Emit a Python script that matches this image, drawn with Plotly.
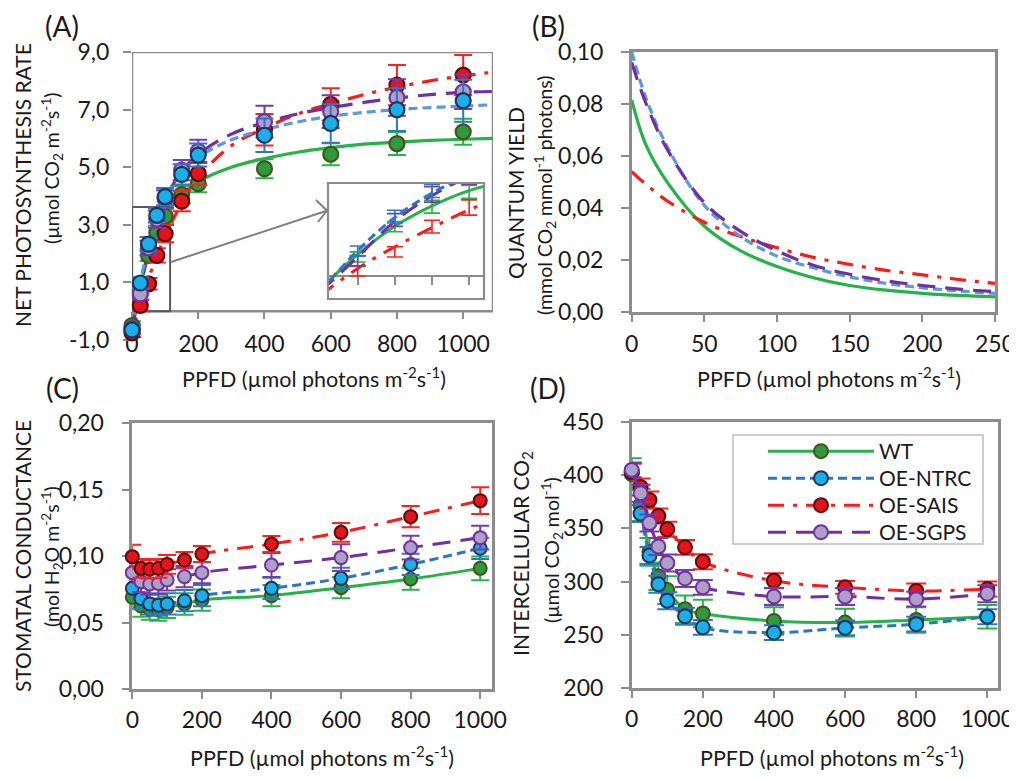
import plotly.graph_objects as go

# figure is placed 8 px in from the page corner; keep it small enough to avoid scrollbars
W, H = 1001, 763
OFF = 8


def px(x):
    return (x - OFF) / W


def py(y):
    return 1 - (y - OFF) / H


# ---------------- data ----------------
PPFD = [0, 25, 50, 75, 100, 150, 200, 400, 600, 800, 1000]
SERIES = ["WT", "OE-NTRC", "OE-SAIS", "OE-SGPS"]

# (A) net photosynthesis rate (means and SE)
A_WT = [-0.5, 0.75, 1.94, 2.72, 3.3, 4.05, 4.43, 4.95, 5.45, 5.82, 6.23]
A_NTRC = [-0.65, 0.98, 2.33, 3.33, 3.98, 4.75, 5.42, 6.11, 6.52, 7.0, 7.31]
A_SAIS = [-0.75, 0.2, 0.95, 1.94, 2.69, 3.82, 4.78, 6.3, 7.18, 7.85, 8.2]
A_SGPS = [-0.6, 0.6, 2.2, 3.2, 3.9, 4.9, 5.55, 6.58, 6.93, 7.42, 7.62]
A_WT_E = [0.15, 0.2, 0.2, 0.25, 0.25, 0.3, 0.3, 0.33, 0.38, 0.4, 0.45]
A_NTRC_E = [0.15, 0.2, 0.25, 0.25, 0.3, 0.35, 0.4, 0.58, 0.67, 0.74, 0.73]
A_SAIS_E = [0.15, 0.2, 0.2, 0.25, 0.3, 0.35, 0.4, 0.55, 0.56, 0.7, 0.7]
A_SGPS_E = [0.15, 0.2, 0.25, 0.3, 0.3, 0.35, 0.4, 0.55, 0.57, 0.63, 0.6]

# (A) fitted light-response curves
FIT_X = [0, 25, 50, 75, 100, 150, 200, 300, 400, 500, 600, 700, 800, 900, 1000, 1090]
FIT_WT = [-0.5, 0.85, 1.95, 2.75, 3.35, 4.05, 4.5, 5.0, 5.3, 5.52, 5.68, 5.8, 5.87, 5.93, 5.97, 6.0]
FIT_NTRC = [-0.6, 1.0, 2.3, 3.25, 3.95, 4.8, 5.35, 5.95, 6.3, 6.57, 6.77, 6.9, 7.0, 7.07, 7.12, 7.17]
FIT_SAIS = [-0.75, 0.3, 1.15, 1.9, 2.6, 3.75, 4.65, 5.75, 6.35, 6.85, 7.2, 7.52, 7.78, 8.0, 8.17, 8.3]
FIT_SGPS = [-0.6, 0.75, 2.15, 3.15, 3.9, 4.85, 5.45, 6.15, 6.55, 6.85, 7.07, 7.25, 7.4, 7.52, 7.6, 7.63]

# (B) quantum yield curves
B_X = [0, 10, 25, 50, 75, 100, 125, 150, 175, 200, 225, 250]
B_WT = [0.0815, 0.064, 0.0495, 0.033, 0.0235, 0.0175, 0.0132, 0.0102, 0.0084, 0.0072, 0.0064, 0.0058]
B_NTRC = [0.1, 0.082, 0.063, 0.041, 0.029, 0.0215, 0.017, 0.0135, 0.011, 0.0093, 0.0081, 0.0072]
B_SAIS = [0.054, 0.049, 0.0425, 0.0345, 0.029, 0.0247, 0.021, 0.0183, 0.016, 0.0143, 0.0125, 0.011]
B_SGPS = [0.096, 0.08, 0.062, 0.042, 0.031, 0.0235, 0.018, 0.0145, 0.012, 0.0102, 0.0088, 0.0078]

# (C) stomatal conductance
C_WT = [0.069, 0.0624, 0.060, 0.0594, 0.0614, 0.0639, 0.0669, 0.0702, 0.0762, 0.0827, 0.0907]
C_NTRC = [0.0757, 0.068, 0.064, 0.063, 0.064, 0.0664, 0.0702, 0.0757, 0.0832, 0.0937, 0.1058]
C_SAIS = [0.0995, 0.0907, 0.090, 0.0907, 0.0937, 0.097, 0.1015, 0.109, 0.1178, 0.1296, 0.1416]
C_SGPS = [0.0875, 0.0807, 0.079, 0.0794, 0.082, 0.0845, 0.0875, 0.0932, 0.0988, 0.1063, 0.1138]
C_WT_E = [0.008, 0.008, 0.008, 0.008, 0.008, 0.008, 0.008, 0.008, 0.008, 0.008, 0.009]
C_NTRC_E = [0.008, 0.008, 0.008, 0.008, 0.008, 0.008, 0.008, 0.008, 0.008, 0.008, 0.008]
C_SAIS_E = [0.009, 0.007, 0.007, 0.007, 0.007, 0.006, 0.006, 0.006, 0.007, 0.008, 0.01]
C_SGPS_E = [0.008, 0.008, 0.008, 0.008, 0.008, 0.008, 0.008, 0.009, 0.01, 0.009, 0.009]

# (D) intercellular CO2
D_WT = [401, 372, 328, 305, 292, 274, 270, 263, 261.5, 264, 267]
D_NTRC = [403, 364, 324.5, 297.5, 282, 267.5, 257, 252, 256.5, 260, 267]
D_SAIS = [403, 389, 376.7, 361.7, 349.2, 332.2, 318.7, 300.8, 294.6, 291.2, 293]
D_SGPS = [405, 383, 355, 333, 317.5, 303, 294.6, 286, 286, 283.5, 288.5]
D_WT_E = [15, 15, 13, 13, 13, 13, 13, 13, 13, 12, 11]
D_NTRC_E = [8, 8, 8, 8, 8, 8, 7, 7, 7, 7, 7]
D_SAIS_E = [8, 8, 8, 7, 7, 7, 7, 7, 6, 7, 7]
D_SGPS_E = [7, 8, 8, 8, 8, 8, 7, 8, 8, 7, 8]

# tick labels (decimal comma)
A_TICKS = [-1, 1, 3, 5, 7, 9]
A_TICKTEXT = ["-1,0", "1,0", "3,0", "5,0", "7,0", "9,0"]
B_TICKS = [0, 0.02, 0.04, 0.06, 0.08, 0.10]
B_TICKTEXT = ["0,00", "0,02", "0,04", "0,06", "0,08", "0,10"]
C_TICKS = [0, 0.05, 0.10, 0.15, 0.20]
C_TICKTEXT = ["0,00", "0,05", "0,10", "0,15", "0,20"]
D_TICKS = [200, 250, 300, 350, 400, 450]
X_TICKS = [0, 200, 400, 600, 800, 1000]
B_XTICKS = [0, 50, 100, 150, 200, 250]

# ---------------- styles ----------------
STYLE = {
    "WT": dict(line="#25b24a", lineA="#25b24a", dash="solid", fill="#2f9a3c", edge="#45521f", err="#2bb04c"),
    "OE-NTRC": dict(line="#2e75c0", lineA="#5b9bd5", dash="9px,5px", fill="#1aaeea", edge="#1f3556", err="#2e78c2"),
    "OE-SAIS": dict(line="#ff1a1a", lineA="#ff1a1a", dash="16px,9px,4px,9px", fill="#e3141b", edge="#5a0d0d", err="#ff2020"),
    "OE-SGPS": dict(line="#7030a0", lineA="#7030a0", dash="18px,10px", fill="#ad9fc8", edge="#7030a0", err="#7a3aa8"),
}
FONT = "Lato"
TXT = "#1a1a1a"
GRID = "#8c8c8c"

fig = go.Figure()

A_DATA = {"WT": (A_WT, A_WT_E, FIT_WT), "OE-NTRC": (A_NTRC, A_NTRC_E, FIT_NTRC),
          "OE-SAIS": (A_SAIS, A_SAIS_E, FIT_SAIS), "OE-SGPS": (A_SGPS, A_SGPS_E, FIT_SGPS)}
B_DATA = {"WT": B_WT, "OE-NTRC": B_NTRC, "OE-SAIS": B_SAIS, "OE-SGPS": B_SGPS}
C_DATA = {"WT": (C_WT, C_WT_E), "OE-NTRC": (C_NTRC, C_NTRC_E),
          "OE-SAIS": (C_SAIS, C_SAIS_E), "OE-SGPS": (C_SGPS, C_SGPS_E)}
D_DATA = {"WT": (D_WT, D_WT_E), "OE-NTRC": (D_NTRC, D_NTRC_E),
          "OE-SAIS": (D_SAIS, D_SAIS_E), "OE-SGPS": (D_SGPS, D_SGPS_E)}

# ---- panel A: fitted curves, then points
for s in ["WT", "OE-SAIS", "OE-SGPS", "OE-NTRC"]:
    st = STYLE[s]
    fig.add_trace(go.Scatter(x=FIT_X, y=A_DATA[s][2], mode="lines", line_shape="spline",
                             line=dict(color=st["lineA"], width=3.2, dash=st["dash"]),
                             xaxis="x", yaxis="y", showlegend=False, hoverinfo="skip"))
for s in ["WT", "OE-SAIS", "OE-SGPS", "OE-NTRC"]:
    st = STYLE[s]
    y, e, _ = A_DATA[s]
    fig.add_trace(go.Scatter(x=PPFD, y=y, mode="markers", cliponaxis=False,
                             marker=dict(size=15, color=st["fill"], line=dict(color=st["edge"], width=2.2)),
                             error_y=dict(type="data", array=e, color=st["err"], thickness=2, width=9),
                             xaxis="x", yaxis="y", showlegend=False))

# ---- inset of panel A
for s in ["WT", "OE-SAIS", "OE-SGPS", "OE-NTRC"]:
    st = STYLE[s]
    y, e, fit = A_DATA[s]
    fig.add_trace(go.Scatter(x=FIT_X[:8], y=fit[:8], mode="lines", line_shape="spline",
                             line=dict(color=st["line"], width=3, dash=st["dash"]),
                             xaxis="x5", yaxis="y5", showlegend=False, hoverinfo="skip"))
    fig.add_trace(go.Scatter(x=PPFD[1:6], y=y[1:6], mode="markers",
                             marker=dict(size=1, color="rgba(0,0,0,0)"),
                             error_y=dict(type="data", array=e[1:6], color=st["err"], thickness=1.6, width=8),
                             xaxis="x5", yaxis="y5", showlegend=False, hoverinfo="skip"))

# ---- panel B
for s in ["WT", "OE-SAIS", "OE-NTRC", "OE-SGPS"]:
    st = STYLE[s]
    fig.add_trace(go.Scatter(x=B_X, y=B_DATA[s], mode="lines", line_shape="spline",
                             line=dict(color=st["lineA"], width=3.2, dash=st["dash"]),
                             xaxis="x2", yaxis="y2", showlegend=False))

# ---- panel C
for s in ["WT", "OE-NTRC", "OE-SGPS", "OE-SAIS"]:
    st = STYLE[s]
    y, e = C_DATA[s]
    fig.add_trace(go.Scatter(x=PPFD, y=y, mode="lines+markers", line_shape="spline", cliponaxis=False,
                             line=dict(color=st["line"], width=3, dash=st["dash"]),
                             marker=dict(size=13, color=st["fill"], line=dict(color=st["edge"], width=2)),
                             error_y=dict(type="data", array=e, color=st["err"], thickness=2, width=9),
                             xaxis="x3", yaxis="y3", showlegend=False))

# ---- panel D (each series gets its own legend row)
LEG = {"WT": "legend", "OE-NTRC": "legend2", "OE-SAIS": "legend3", "OE-SGPS": "legend4"}
for s in ["WT", "OE-NTRC", "OE-SAIS", "OE-SGPS"]:
    st = STYLE[s]
    y, e = D_DATA[s]
    fig.add_trace(go.Scatter(x=PPFD, y=y, mode="lines+markers", line_shape="spline", cliponaxis=False,
                             name=s, legend=LEG[s],
                             line=dict(color=st["line"], width=3, dash=st["dash"]),
                             marker=dict(size=14, color=st["fill"], line=dict(color=st["edge"], width=2)),
                             error_y=dict(type="data", array=e, color=st["err"], thickness=2, width=10),
                             xaxis="x4", yaxis="y4", showlegend=True))

# ---------------- axes ----------------
tickfont = dict(family=FONT, size=23, color=TXT)


def axis_common(**kw):
    d = dict(showgrid=False, zeroline=False, ticks="outside", ticklen=8, tickwidth=2, tickcolor=GRID,
             linecolor=GRID, linewidth=2.5, tickfont=tickfont, layer="below traces", fixedrange=True,
             automargin=False, ticklabeloverflow="allow")
    d.update(kw)
    return d


A_X0, A_X1, A_YT, A_YB = 132, 493, 52, 340
y0_A = A_YB - (A_YB - A_YT) * (0 - (-1)) / 10.0  # pixel of y=0 in panel A

INS_X0, INS_X1, INS_YT, INS_YB = 328, 484, 183, 299
INS_RANGE = [-0.9, 3.65]
y0_I = INS_YB - (INS_YB - INS_YT) * (0 - INS_RANGE[0]) / (INS_RANGE[1] - INS_RANGE[0])

fig.update_layout(
    xaxis=axis_common(domain=[px(A_X0), px(A_X1)], range=[0, 1090], anchor="free", position=py(y0_A),
                      showline=False, tickvals=X_TICKS, ticklen=7, ticklabelstandoff=5),
    yaxis=axis_common(domain=[py(A_YB), py(A_YT)], range=[-1, 9], anchor="x", showline=False,
                      tickvals=A_TICKS, ticktext=A_TICKTEXT, ticklabelstandoff=9),
    xaxis2=axis_common(domain=[px(631.7), px(995)], range=[0, 250], anchor="y2", showline=True, mirror=True,
                       tickvals=B_XTICKS, ticklen=7, ticklabelstandoff=3),
    yaxis2=axis_common(domain=[py(312), py(52)], range=[0, 0.1], anchor="x2", showline=True, mirror=True,
                       tickvals=B_TICKS, ticktext=B_TICKTEXT, ticklabelstandoff=13),
    xaxis3=axis_common(domain=[px(132.3), px(491.7)], range=[0, 1033], anchor="y3", showline=True, mirror=True,
                       tickvals=X_TICKS, ticklen=7, ticklabelstandoff=2),
    yaxis3=axis_common(domain=[py(689), py(423)], range=[0, 0.2], anchor="x3", showline=True, mirror=True,
                       tickvals=C_TICKS, ticktext=C_TICKTEXT, ticklabelstandoff=13),
    xaxis4=axis_common(domain=[px(631.7), px(998)], range=[0, 1030], anchor="y4", showline=True, mirror=True,
                       tickvals=X_TICKS, ticklen=7, ticklabelstandoff=2),
    yaxis4=axis_common(domain=[py(688), py(422)], range=[200, 450], anchor="x4", showline=True, mirror=True,
                       tickvals=D_TICKS, ticklabelstandoff=13),
    xaxis5=axis_common(domain=[px(INS_X0), px(INS_X1)], range=[5, 110], anchor="free", position=py(y0_I),
                       showline=True, linewidth=2, tickvals=[25, 50, 75, 100], ticklen=8, showticklabels=False),
    yaxis5=axis_common(domain=[py(INS_YB), py(INS_YT)], range=INS_RANGE, anchor="x5", showline=False,
                       ticks="", showticklabels=False),
)

# ---------------- shapes ----------------
shapes = [
    # panel A frame (axis box sits on y = 0)
    dict(type="rect", xref="x", yref="y", x0=0, x1=1090, y0=0, y1=9, line=dict(color=GRID, width=2.5),
         layer="below"),
    # zoom rectangle in panel A
    dict(type="rect", xref="x", yref="y", x0=0, x1=115, y0=0, y1=3.62, line=dict(color="#5a5a5a", width=2),
         layer="below"),
    # inset frame
    dict(type="rect", xref="paper", yref="paper", x0=px(INS_X0), x1=px(INS_X1), y0=py(INS_YB), y1=py(INS_YT),
         line=dict(color=GRID, width=2.2), layer="above"),
    # arrow from zoom box to inset
    dict(type="line", xref="paper", yref="paper", x0=px(171), y0=py(262), x1=px(326), y1=py(211),
         line=dict(color="#7f7f7f", width=2)),
    dict(type="line", xref="paper", yref="paper", x0=px(316), y0=py(200), x1=px(327), y1=py(210.5),
         line=dict(color="#7f7f7f", width=2)),
    dict(type="line", xref="paper", yref="paper", x0=px(318), y0=py(222), x1=px(327), y1=py(210.5),
         line=dict(color="#7f7f7f", width=2)),
    # legend box
    dict(type="rect", xref="paper", yref="paper", x0=px(733), x1=px(983), y0=py(544), y1=py(435),
         line=dict(color="#bdbdbd", width=1.5), fillcolor="rgba(255,255,255,0)", layer="above"),
]

# ---------------- annotations ----------------
ann = []


def text(x, y, t, size=20, angle=0):
    ann.append(dict(x=px(x), y=py(y), xref="paper", yref="paper", text=t, showarrow=False,
                    textangle=angle, xanchor="center", yanchor="middle",
                    font=dict(family=FONT, size=size, color=TXT)))


for lbl, x, y in [("(A)", 62, 26), ("(B)", 548, 26), ("(C)", 62, 388), ("(D)", 548, 388)]:
    text(x, y, lbl, size=28)

XT = "PPFD (µmol photons m<sup>-2</sup>s<sup>-1</sup>)"
for x, y in [(314, 378), (829, 378), (322, 756), (832, 756)]:
    text(x, y, XT, size=21.5)

text(22, 185, "NET PHOTOSYNTHESIS RATE", size=21, angle=-90)
text(52, 168, "(µmol CO<sub>2</sub> m<sup>-2</sup>s<sup>-1</sup>)", size=19.5, angle=-90)
text(516, 193, "QUANTUM YIELD", size=21, angle=-90)
text(545, 195, "(mmol CO<sub>2</sub> mmol<sup>-1</sup> photons)", size=19.5, angle=-90)
text(22, 556, "STOMATAL CONDUCTANCE", size=21, angle=-90)
text(52, 557, "(mol H<sub>2</sub>O m<sup>-2</sup>s<sup>-1</sup>)", size=19.5, angle=-90)
text(522, 554, "INTERCELLULAR CO<sub>2</sub>", size=21, angle=-90)
text(552, 550, "(µmol CO<sub>2</sub> mol<sup>-1</sup>)", size=19.5, angle=-90)

legend_rows = {"legend": 449, "legend2": 476, "legend3": 503, "legend4": 530}
leg_layout = {}
for key, yc in legend_rows.items():
    leg_layout[key] = dict(x=px(763), y=py(yc - 18), xanchor="left", yanchor="top",
                           bgcolor="rgba(255,255,255,0)", borderwidth=0, itemwidth=106,
                           font=dict(family=FONT, size=21, color=TXT))

fig.update_layout(
    width=W, height=H, margin=dict(l=0, r=0, t=0, b=0, pad=0), autosize=False,
    paper_bgcolor="white", plot_bgcolor="white",
    shapes=shapes, annotations=ann,
    showlegend=True,
    **leg_layout,
)

fig.write_html("out.html")
